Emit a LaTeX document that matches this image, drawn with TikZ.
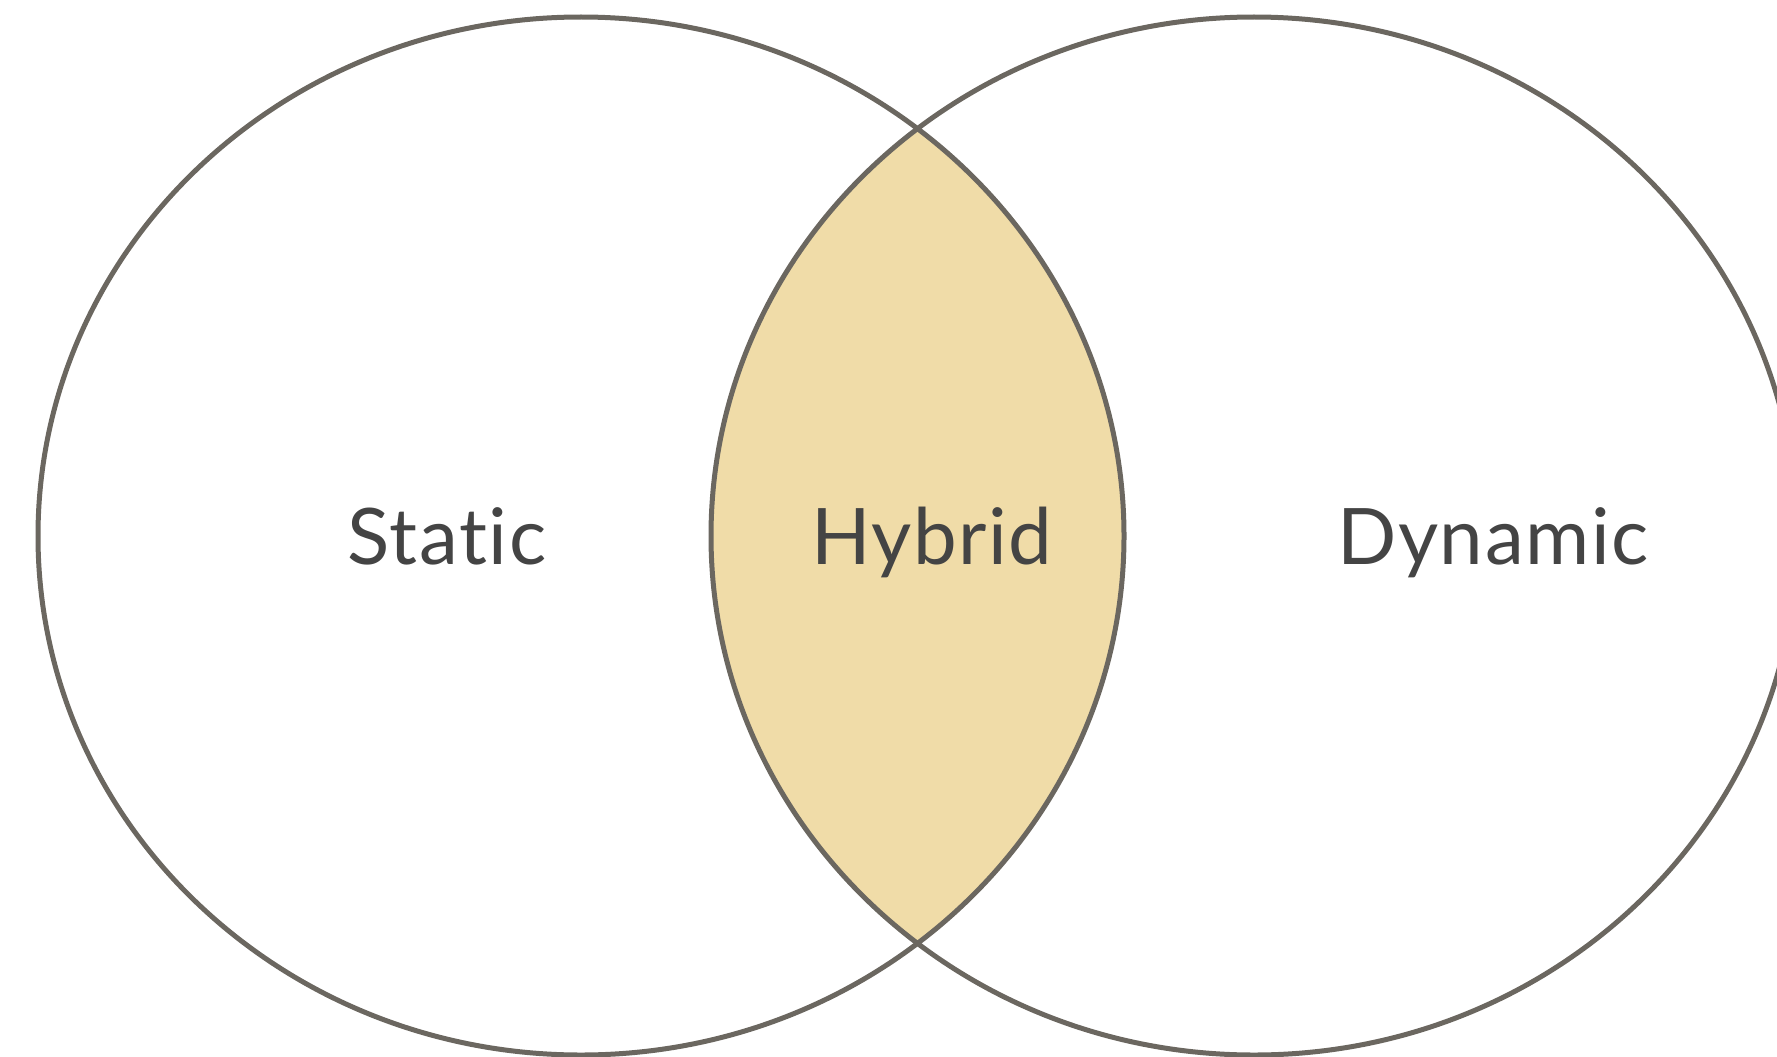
\documentclass[tikz,border=0pt]{standalone}
\usepackage{fontspec}
\setmainfont{Lato}[RawFeature={-liga;-dlig;-clig},LetterSpace=2]
\definecolor{rimgray}{RGB}{107,103,96}
\definecolor{lensfill}{RGB}{240,220,168}
\definecolor{txtgray}{RGB}{68,68,68}
\tikzset{
  rim/.style={draw=rimgray,line width=5pt},
  setlabel/.style={anchor=base,inner sep=0pt,text=txtgray,font=\fontsize{78}{90}\selectfont}
}
\begin{document}
\begin{tikzpicture}[x=1pt,y=-1pt]
\useasboundingbox (0,0) rectangle (1777,1057);
\clip (0,0) rectangle (1777,1057);
\coordinate (lc) at (581,536);
\coordinate (rc) at (1254,536);
\begin{scope}
  \clip (lc) ellipse [x radius=543, y radius=519];
  \fill[lensfill] (rc) ellipse [x radius=543, y radius=519];
\end{scope}
\draw[rim] (lc) ellipse [x radius=543, y radius=519];
\draw[rim] (rc) ellipse [x radius=543, y radius=519];
\node[setlabel] (static) at (447,564) {Static};
\node[setlabel] (hybrid) at (932,564) {Hybrid};
\node[setlabel] (dynamic) at (1493,564) {Dynamic};
\end{tikzpicture}
\end{document}
